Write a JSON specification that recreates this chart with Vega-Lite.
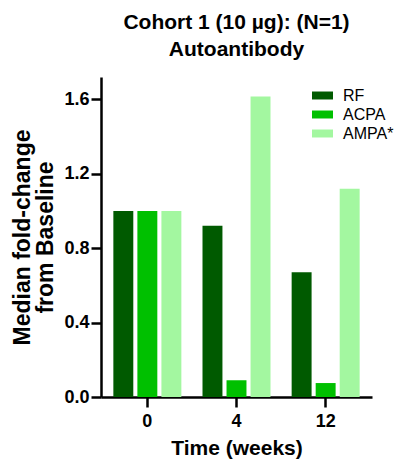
{
  "$schema": "https://vega.github.io/schema/vega-lite/v6.json",
  "autosize": "none",
  "width": 271,
  "height": 320,
  "padding": {"left": 101, "top": 77, "right": 36, "bottom": 62},
  "background": "white",
  "title": {
    "text": ["Cohort 1 (10 µg): (N=1)", "Autoantibody"],
    "font": "Liberation Sans",
    "fontSize": 21,
    "fontWeight": "bold",
    "color": "black",
    "anchor": "middle",
    "lineHeight": 27,
    "offset": 17
  },
  "data": {
    "values": [
      {"time": "0", "marker": "RF", "value": 1.0},
      {"time": "0", "marker": "ACPA", "value": 1.0},
      {"time": "0", "marker": "AMPA", "value": 1.0},
      {"time": "4", "marker": "RF", "value": 0.92},
      {"time": "4", "marker": "ACPA", "value": 0.09},
      {"time": "4", "marker": "AMPA", "value": 1.615},
      {"time": "12", "marker": "RF", "value": 0.67},
      {"time": "12", "marker": "ACPA", "value": 0.075},
      {"time": "12", "marker": "AMPA", "value": 1.12}
    ]
  },
  "mark": {"type": "bar"},
  "encoding": {
    "x": {
      "field": "time",
      "type": "nominal",
      "sort": ["0", "4", "12"],
      "scale": {"paddingInner": 0, "paddingOuter": 0.02},
      "axis": {
        "title": "Time (weeks)",
        "labelAngle": 0,
        "labelFont": "Liberation Sans",
        "labelFontSize": 18,
        "labelFontWeight": "bold",
        "labelColor": "black",
        "labelPadding": 5,
        "titleFont": "Liberation Sans",
        "titleFontSize": 21,
        "titleFontWeight": "bold",
        "titleColor": "black",
        "titlePadding": 7,
        "domainColor": "black",
        "domainWidth": 2.5,
        "tickColor": "black",
        "tickWidth": 2.5,
        "tickSize": 10
      }
    },
    "xOffset": {
      "field": "marker",
      "type": "nominal",
      "sort": ["RF", "ACPA", "AMPA"],
      "scale": {"paddingInner": 0.17, "paddingOuter": 0.44}
    },
    "y": {
      "field": "value",
      "type": "quantitative",
      "scale": {"domain": [0, 1.72], "nice": false},
      "axis": {
        "title": ["Median fold-change", "from Baseline"],
        "values": [0, 0.4, 0.8, 1.2, 1.6],
        "format": ".1f",
        "grid": false,
        "labelFont": "Liberation Sans",
        "labelFontSize": 18,
        "labelFontWeight": "bold",
        "labelColor": "black",
        "labelPadding": 2,
        "titleFont": "Liberation Sans",
        "titleFontSize": 23,
        "titleFontWeight": "bold",
        "titleColor": "black",
        "titleLineHeight": 23,
        "titlePadding": 6,
        "domainColor": "black",
        "domainWidth": 2.5,
        "tickColor": "black",
        "tickWidth": 2.5,
        "tickSize": 10
      }
    },
    "color": {
      "field": "marker",
      "type": "nominal",
      "sort": ["RF", "ACPA", "AMPA"],
      "scale": {"domain": ["RF", "ACPA", "AMPA"], "range": ["#005a00", "#00c000", "#a3f7a0"]},
      "legend": {
        "title": null,
        "orient": "none",
        "legendX": 211,
        "legendY": 8,
        "padding": 0,
        "symbolType": "M-1,-0.38H1V0.38H-1Z",
        "symbolSize": 441,
        "symbolStrokeWidth": 0,
        "symbolOpacity": 1,
        "rowPadding": -5.5,
        "labelOffset": 10,
        "labelFont": "Liberation Sans",
        "labelFontSize": 16,
        "labelColor": "black",
        "labelExpr": "datum.label == 'AMPA' ? 'AMPA*' : datum.label"
      }
    }
  },
  "config": {"view": {"stroke": null}}
}
